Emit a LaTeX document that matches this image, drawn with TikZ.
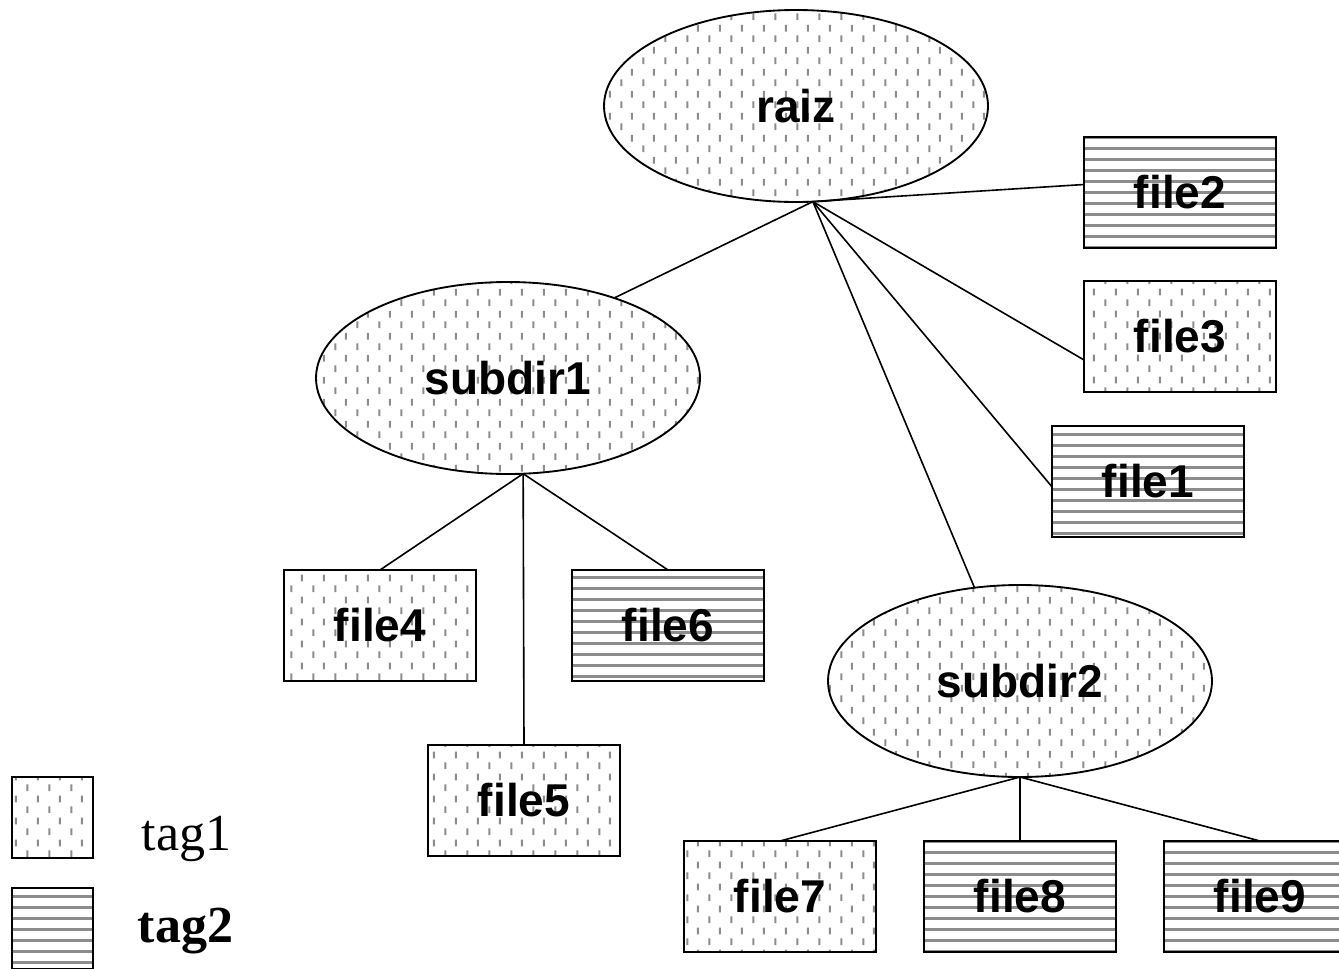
\documentclass[tikz,border=0pt]{standalone}
\usepackage{fontspec}
\setmainfont{Liberation Serif}
\setsansfont{Liberation Sans}
\usetikzlibrary{shapes.geometric,patterns}

% gray vertical dashes, alternate columns offset by half a period
\pgfdeclarepatternformonly{vdashes}{\pgfqpoint{0pt}{0pt}}{\pgfqpoint{16.5pt}{16.5pt}}{\pgfqpoint{16.5pt}{16.5pt}}{%
  \pgfsetlinewidth{1.6pt}%
  \pgfpathmoveto{\pgfqpoint{4.125pt}{1.5pt}}%
  \pgfpathlineto{\pgfqpoint{4.125pt}{6.75pt}}%
  \pgfpathmoveto{\pgfqpoint{12.375pt}{9.75pt}}%
  \pgfpathlineto{\pgfqpoint{12.375pt}{15pt}}%
  \pgfusepath{stroke}}
% gray horizontal rules
\pgfdeclarepatternformonly{hrules}{\pgfqpoint{-1pt}{0pt}}{\pgfqpoint{9.25pt}{8.25pt}}{\pgfqpoint{8.25pt}{8.25pt}}{%
  \pgfsetlinewidth{1.6pt}%
  \pgfpathmoveto{\pgfqpoint{-1pt}{4.1pt}}%
  \pgfpathlineto{\pgfqpoint{9.25pt}{4.1pt}}%
  \pgfusepath{stroke}}

\tikzset{
  tagone/.style={pattern=vdashes, pattern color=black!45},
  tagtwo/.style={pattern=hrules, pattern color=black!45},
  lbl/.style={font=\sffamily\bfseries\fontsize{34.5}{40}\selectfont},
  dirnode/.style={ellipse, draw, line width=1.4pt, tagone, lbl, inner sep=0pt, outer sep=0pt,
    minimum width=288pt, minimum height=144pt},
  filenode/.style={rectangle, draw, line width=1.4pt, lbl, inner sep=0pt, outer sep=0pt,
    minimum width=144pt, minimum height=83.25pt},
  keybox/.style={rectangle, draw, line width=1.4pt, inner sep=0pt, outer sep=0pt,
    minimum width=60.75pt, minimum height=60.75pt},
  link/.style={line width=1.2pt}
}

\begin{document}
\begin{tikzpicture}[x=0.75pt, y=-0.75pt]
\clip (0,0) rectangle (1339,968);

% directories
\node[dirnode] (raiz) at (796,106) {raiz};
\node[dirnode] (subdir1) at (508,378) {subdir1};
\node[dirnode] (subdir2) at (1020,681) {subdir2};

% files
\node[filenode, tagtwo] (file2) at (1180,192.5) {file2};
\node[filenode, tagone] (file3) at (1180,336.5) {file3};
\node[filenode, tagtwo] (file1) at (1148,481.5) {file1};
\node[filenode, tagone] (file4) at (380,625.5) {file4};
\node[filenode, tagtwo] (file6) at (668,625.5) {file6};
\node[filenode, tagone] (file5) at (524,800.5) {file5};
\node[filenode, tagone] (file7) at (780,896.5) {file7};
\node[filenode, tagtwo] (file8) at (1020,896.5) {file8};
\node[filenode, tagtwo] (file9) at (1260,896.5) {file9};

% connectors
\coordinate (rhub) at (raiz.-80);
\coordinate (s1hub) at (subdir1.-81);
\coordinate (s2hub) at (subdir2.south);
\draw[link] (rhub) -- ([yshift=6pt]file2.west);
\draw[link] (rhub) -- (subdir1.37);
\draw[link] (rhub) -- ([yshift=-17.6pt]file3.west);
\draw[link] (rhub) -- ([yshift=-4pt]file1.west);
\draw[link] (rhub) -- (subdir2.116);
\draw[link] (s1hub) -- (file4.north);
\draw[link] (s1hub) -- (file5.north);
\draw[link] (s1hub) -- (file6.north);
\draw[link] (s2hub) -- (file7.north);
\draw[link] (s2hub) -- (file8.north);
\draw[link] (s2hub) -- (file9.north);

% key
\node[keybox, tagone] (key1) at (52.5,817.5) {};
\node[keybox, tagtwo] (key2) at (52.5,928.5) {};
\node[anchor=base west, font=\fontsize{39}{44}\selectfont] (key1txt) at (137,850) {tag1};
\node[anchor=base west, font=\bfseries\fontsize{39}{44}\selectfont] (key2txt) at (133,942) {tag2};
\end{tikzpicture}
\end{document}
